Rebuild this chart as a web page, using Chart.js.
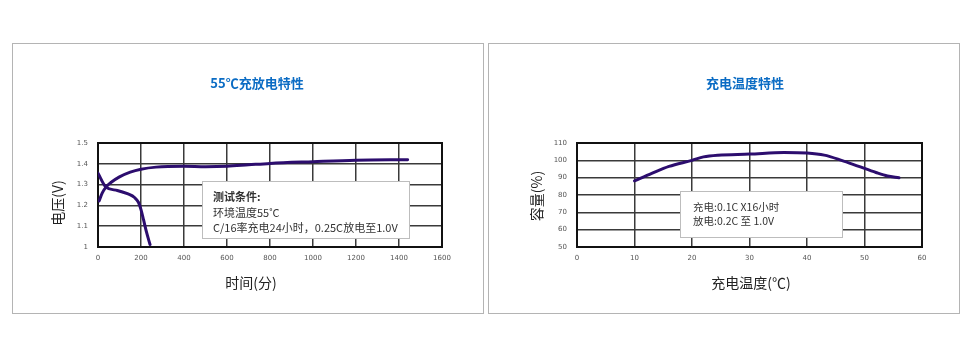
<!DOCTYPE html>
<html>
<head>
<meta charset="utf-8">
<script src="https://cdn.jsdelivr.net/npm/chart.js@4.4.1/dist/chart.umd.min.js"></script>
<style>
  html, body { margin: 0; padding: 0; background: #fff; }
  body { width: 976px; height: 353px; position: relative; overflow: hidden; }
  .panel { position: absolute; top: 43px; width: 470px; height: 269px; border: 1px solid #b4b4b4; }
  .panel canvas { position: absolute; left: 0; top: 0; }
</style>
</head>
<body>
<div class="panel" style="left:12px"><canvas id="chgChart" width="470" height="269"></canvas></div>
<div class="panel" style="left:488px"><canvas id="tempChart" width="470" height="269"></canvas></div>
<script>
/* ── 数据 ── */
const chargeTime     = [5, 20, 37, 60, 100, 150, 200, 270, 400, 500, 600, 700, 800, 1000, 1200, 1440];
const chargeVolt     = [1.222, 1.26, 1.288, 1.31, 1.337, 1.36, 1.374, 1.384, 1.388, 1.386, 1.388, 1.395, 1.402, 1.41, 1.417, 1.42];
const dischargeTime  = [0, 37, 90, 140, 170, 188, 200, 212, 226, 242];
const dischargeVolt  = [1.355, 1.288, 1.272, 1.255, 1.238, 1.215, 1.18, 1.13, 1.07, 1.012];
const timeTicks      = ['0', '200', '400', '600', '800', '1000', '1200', '1400', '1600'];
const voltTicks      = ['1', '1.1', '1.2', '1.3', '1.4', '1.5'];

const chargeTemp     = [10, 13, 16, 20, 22, 24.5, 30, 36, 40, 43, 46, 49, 52, 54, 56];
const capacity       = [88.2, 92.5, 96.5, 100, 102, 103, 103.6, 104.5, 104.2, 103, 100, 96.5, 93, 91, 90];
const tempTicks      = ['0', '10', '20', '30', '40', '50', '60'];
const capTicks       = ['50', '60', '70', '80', '90', '100', '110'];

const LINE  = '#2c0d6e';
const GRID  = '#3a3a3a';
const CJK   = '"Noto Sans CJK SC", "Noto Sans", sans-serif';

const pts = (xs, ys) => xs.map((x, i) => ({ x, y: ys[i] }));

/* 面板文字：标题、坐标轴名称、说明框 */
const panelText = {
  id: 'panelText',
  beforeDatasetsDraw(chart, args, o) {
    const { ctx, chartArea: a } = chart;
    ctx.save();
    ctx.strokeStyle = '#111';
    ctx.lineWidth = 2;
    ctx.strokeRect(a.left, a.top, a.right - a.left, a.bottom - a.top);
    ctx.restore();
  },
  afterDraw(chart, args, o) {
    const { ctx } = chart;
    ctx.save();
    ctx.fillStyle = '#0b6cc4';
    ctx.font = 'bold 13px ' + CJK;
    ctx.textAlign = 'center';
    ctx.textBaseline = 'middle';
    ctx.fillText(o.title, o.titleX, 39);

    ctx.fillStyle = '#222';
    ctx.font = '14px ' + CJK;
    ctx.fillText(o.xTitle, o.xTitleX, 239);
    ctx.save();
    ctx.translate(o.yTitleX, o.yTitleY);
    ctx.rotate(-Math.PI / 2);
    ctx.fillText(o.yTitle, 0, 0);
    ctx.restore();

    const b = o.box;
    ctx.fillStyle = '#fff';
    ctx.fillRect(b.x, b.y, b.w, b.h);
    ctx.strokeStyle = '#bdbdbd';
    ctx.lineWidth = 1;
    ctx.strokeRect(b.x + 0.5, b.y + 0.5, b.w, b.h);
    ctx.textAlign = 'left';
    ctx.fillStyle = '#333';
    b.lines.forEach((ln, i) => {
      ctx.font = (ln.bold ? 'bold ' : '') + b.size + 'px ' + CJK;
      ctx.fillText(ln.text, b.x + b.pad, b.y + b.first + i * b.gap);
    });
    ctx.restore();
  },
};

function buildOptions(xMin, xMax, xStep, xLabels, yMin, yMax, yStep, yLabels, yWidth, padRight, texts) {
  const tickFont = { family: '"DejaVu Sans", sans-serif', size: 7 };
  return {
    responsive: false,
    animation: false,
    layout: { padding: { top: 99, right: padRight, left: 0, bottom: 0 } },
    plugins: { legend: { display: false }, tooltip: { enabled: false }, panelText: texts },
    elements: { point: { radius: 0 } },
    scales: {
      x: {
        type: 'linear', min: xMin, max: xMax,
        afterFit: s => { s.height = 66; },
        ticks: { stepSize: xStep, padding: 7, color: '#555', font: tickFont, maxRotation: 0,
                 callback: (v, i) => xLabels[i] },
        grid: { color: GRID, lineWidth: 1.5, drawTicks: false },
        border: { color: '#111', width: 2 },
      },
      y: {
        min: yMin, max: yMax,
        afterFit: s => { s.width = yWidth; },
        ticks: { stepSize: yStep, padding: 10, color: '#555', font: tickFont,
                 callback: (v, i) => yLabels[i] },
        grid: { color: GRID, lineWidth: 1.5, drawTicks: false },
        border: { color: '#111', width: 2 },
      },
    },
  };
}

const lineSet = data => ({
  data, borderColor: LINE, borderWidth: 3, fill: false,
  cubicInterpolationMode: 'monotone', borderCapStyle: 'round',
});

new Chart(document.getElementById('chgChart'), {
  type: 'line',
  data: { datasets: [lineSet(pts(chargeTime, chargeVolt)), lineSet(pts(dischargeTime, dischargeVolt))] },
  options: buildOptions(0, 1600, 200, timeTicks, 1, 1.5, 0.1, voltTicks, 85, 41, {
    title: '55℃充放电特性', titleX: 244,
    xTitle: '时间(分)', xTitleX: 238,
    yTitle: '电压(V)', yTitleX: 45, yTitleY: 159,
    box: { x: 189, y: 137, w: 207, h: 57, pad: 11, size: 11, first: 16, gap: 15.5,
           lines: [{ text: '测试条件:', bold: true }, { text: '环境温度55˚C' },
                   { text: 'C/16率充电24小时，0.25C放电至1.0V' }] },
  }),
  plugins: [panelText],
});

new Chart(document.getElementById('tempChart'), {
  type: 'line',
  data: { datasets: [lineSet(pts(chargeTemp, capacity))] },
  options: buildOptions(0, 60, 10, tempTicks, 50, 110, 10, capTicks, 88, 37, {
    title: '充电温度特性', titleX: 256,
    xTitle: '充电温度(℃)', xTitleX: 262,
    yTitle: '容量(%)', yTitleX: 48, yTitleY: 152,
    box: { x: 191, y: 147, w: 162, h: 46, pad: 13, size: 10.5, first: 16, gap: 14,
           lines: [{ text: '充电:0.1C X16小时' }, { text: '放电:0.2C 至 1.0V' }] },
  }),
  plugins: [panelText],
});
</script>
</body>
</html>
